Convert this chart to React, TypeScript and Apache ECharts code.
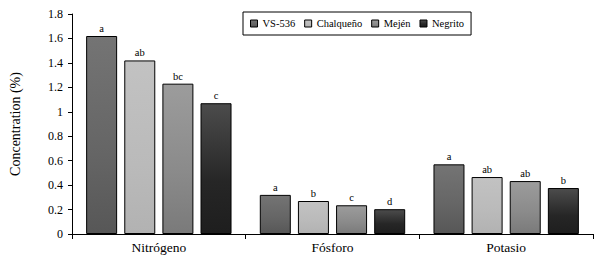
import React, { useEffect, useRef } from "react";
import * as echarts from "echarts";

const categories = ["Nitrógeno", "Fósforo", "Potasio"];
const seriesNames = ["VS-536", "Chalqueño", "Mején", "Negrito"];
const vs536 = [1.62, 0.32, 0.57];
const chalqueno = [1.42, 0.27, 0.466];
const mejen = [1.23, 0.235, 0.433];
const negrito = [1.07, 0.203, 0.376];
const letters = [
  ["a", "a", "a"],
  ["ab", "b", "ab"],
  ["bc", "c", "ab"],
  ["c", "d", "b"],
];
const yTicks = { min: 0, max: 1.8, interval: 0.2 };

const FONT = "Liberation Serif";

const gradients: [string, string, string][] = [
  ["#747474", "#656565", "#575757"],
  ["#c2c2c2", "#bababa", "#b2b2b2"],
  ["#9c9c9c", "#8a8a8a", "#7a7a7a"],
  ["#4c4c4c", "#262626", "#1e1e1e"],
];

const richFont = (size: number) => ({ s: { fontFamily: FONT, fontSize: size, color: "#000" } });

export default function App() {
  const ref = useRef<HTMLDivElement>(null);
  useEffect(() => {
    if (!ref.current) return;
    const chart = echarts.init(ref.current, undefined, { renderer: "svg" });
    const values = [vs536, chalqueno, mejen, negrito];
    chart.setOption({
      animation: false,
      textStyle: { fontFamily: FONT, color: "#000" },
      grid: { left: 68, right: 15, top: 14, bottom: 32 },
      legend: {
        left: 243,
        top: 12,
        padding: [6, 7, 6, 7],
        borderColor: "#000",
        borderWidth: 1,
        itemWidth: 7,
        itemHeight: 7,
        itemGap: 9,
        icon: "rect",
        formatter: (n: string) => `{s|${n}}`,
        textStyle: { fontFamily: FONT, fontSize: 10.5, color: "#000", rich: richFont(10.5) },
        itemStyle: { borderColor: "#000", borderWidth: 1 },
        data: seriesNames,
      },
      xAxis: {
        type: "category",
        data: categories,
        axisLine: { lineStyle: { color: "#000", width: 1 } },
        axisTick: { show: true, length: 5, lineStyle: { color: "#000" } },
        axisLabel: {
          fontFamily: FONT,
          fontSize: 13.5,
          color: "#000",
          margin: 6,
          formatter: (v: string) => `{s|${v}}`,
          rich: richFont(13.5),
        },
      },
      yAxis: {
        type: "value",
        min: yTicks.min,
        max: yTicks.max,
        interval: yTicks.interval,
        name: "Concentration (%)",
        nameLocation: "middle",
        nameRotate: 90,
        nameGap: 50,
        nameTextStyle: { fontFamily: FONT, fontSize: 14, color: "#000" },
        axisLine: { show: true, lineStyle: { color: "#000", width: 1 } },
        axisTick: { show: true, length: 4, lineStyle: { color: "#000" } },
        splitLine: { show: false },
        axisLabel: {
          fontFamily: FONT,
          fontSize: 12,
          color: "#000",
          margin: 9,
          formatter: (v: number) => `{s|${+v.toFixed(1)}}`,
          rich: richFont(12),
        },
      },
      series: seriesNames.map((name, i) => ({
        name,
        type: "bar",
        data: values[i],
        barWidth: 31,
        barGap: "23%",
        itemStyle: {
          color: new echarts.graphic.LinearGradient(0, 0, 0, 1, [
            { offset: 0, color: gradients[i][0] },
            { offset: 0.6, color: gradients[i][1] },
            { offset: 1, color: gradients[i][2] },
          ]),
          borderColor: "#000",
          borderWidth: 1,
        },
        label: {
          show: true,
          position: "top",
          distance: 2,
          fontFamily: FONT,
          fontSize: 10.5,
          color: "#000",
          formatter: (p: any) => `{s|${letters[i][p.dataIndex]}}`,
          rich: richFont(10.5),
        },
      })),
    });
    return () => chart.dispose();
  }, []);
  return (
    <div
      ref={ref}
      style={{ position: "fixed", left: 0, top: 0, width: 608, height: 266, background: "#fff" }}
    />
  );
}
